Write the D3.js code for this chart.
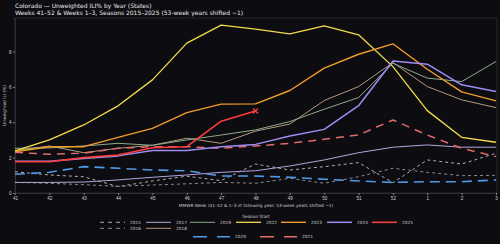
<!DOCTYPE html>
<html>
<head>
<meta charset="utf-8">
<script src="https://cdn.jsdelivr.net/npm/d3@7"></script>
<style>
  body { margin: 0; background: #0c0c11; }
  svg { display: block; font-family: "DejaVu Sans", sans-serif; }
</style>
</head>
<body>
<div id="chart"></div>
<script>
// weeks on the x axis (41..52 then 1..3 of next year)
const weekLabels = ["41","42","43","44","45","46","47","48","49","50","51","52","1","2","3"];

// season values, unweighted ILI %
const s2015 = [1.2, 1.02, 0.92, 0.36, 0.68, 0.95, 0.7, 1.64, 1.3, 1.49, 1.72, 0.58, 1.87, 1.64, 2.25];
const s2016 = [0.6, 0.55, 0.47, 0.38, 0.45, 0.52, 0.6, 0.55, 0.83, 0.55, 0.92, 1.4, 1.17, 0.98, 1.0];
const s2017 = [0.6, 0.6, 0.62, 0.74, 0.89, 1.02, 1.17, 1.26, 1.53, 1.87, 2.28, 2.59, 2.72, 2.59, 2.59];
const s2018 = [2.4, 2.66, 2.28, 2.53, 2.7, 3.1, 2.81, 3.5, 3.9, 5.23, 6.02, 7.38, 6.02, 5.27, 4.83];
const s2019 = [2.53, 2.55, 2.66, 2.81, 2.7, 3.0, 3.28, 3.57, 4.04, 4.74, 5.4, 7.34, 6.5, 6.3, 7.44];
const s2020 = [1.06, 1.17, 1.49, 1.4, 1.3, 1.26, 0.96, 0.96, 0.89, 0.78, 0.68, 0.6, 0.64, 0.64, 0.74];
const s2021 = [2.3, 2.19, 2.25, 2.53, 2.62, 2.62, 2.53, 2.66, 2.81, 3.04, 3.28, 4.13, 3.28, 2.53, 2.06];
const s2022 = [2.38, 3.0, 3.85, 4.93, 6.4, 8.48, 9.5, 9.27, 9.0, 9.46, 8.95, 7.15, 4.66, 3.15, 2.87];
const s2023 = [2.33, 2.62, 2.62, 3.15, 3.66, 4.55, 5.03, 5.04, 5.8, 7.06, 7.85, 8.44, 7.0, 5.72, 5.21];
const s2024 = [1.8, 1.8, 1.95, 2.1, 2.4, 2.4, 2.62, 2.75, 3.23, 3.6, 4.94, 7.47, 7.29, 6.12, 5.74];
const s2025 = [1.77, 1.77, 2.0, 2.15, 2.56, 2.62, 4.06, 4.64];

const yTicks = [0, 2, 4, 6, 8];

const series = [
  {name: "2015", values: s2015, color: "#b0b0b0", width: 1, dash: "3,3"},
  {name: "2016", values: s2016, color: "#8c8c8c", width: 1, dash: "3,3"},
  {name: "2017", values: s2017, color: "#b4a4dc", width: 1, dash: null},
  {name: "2018", values: s2018, color: "#b39a7e", width: 1, dash: null},
  {name: "2019", values: s2019, color: "#8fab8c", width: 1, dash: null},
  {name: "2020", values: s2020, color: "#4f9ae6", width: 1.6, dash: "10,6"},
  {name: "2021", values: s2021, color: "#e26a6a", width: 1.5, dash: "8,6"},
  {name: "2022", values: s2022, color: "#f3dc4a", width: 1.3, dash: null},
  {name: "2023", values: s2023, color: "#f19d2a", width: 1.4, dash: null},
  {name: "2024", values: s2024, color: "#9d8df2", width: 1.5, dash: null},
  {name: "2025", values: s2025, color: "#ff3d3d", width: 1.6, dash: null}
];

const w = 500, h = 244;
const mLeft = 15, mRight = 497, mTop = 18, mBottom = 193;

const svg = d3.select("#chart").append("svg")
  .attr("width", w).attr("height", h);

svg.append("rect").attr("width", w).attr("height", h).attr("fill", "#0c0c11");

const x = d3.scaleLinear().domain([0, weekLabels.length - 1]).range([mLeft, mRight - 1]);
const y = d3.scaleLinear().domain([0, 9.9]).range([mBottom, mTop]);

// frame
svg.append("rect")
  .attr("x", mLeft).attr("y", mTop)
  .attr("width", mRight - mLeft).attr("height", mBottom - mTop)
  .attr("fill", "none").attr("stroke", "#2e2e36").attr("stroke-width", 0.8);

// axes
const xAxis = d3.axisBottom(x).tickValues(d3.range(weekLabels.length))
  .tickFormat(i => weekLabels[i]).tickSize(2).tickPadding(1.5);
const gx = svg.append("g").attr("transform", `translate(0,${mBottom})`).call(xAxis);

const yAxis = d3.axisLeft(y).tickValues(yTicks).tickSize(2).tickPadding(1.5);
const gy = svg.append("g").attr("transform", `translate(${mLeft},0)`).call(yAxis);

[gx, gy].forEach(g => {
  g.select(".domain").attr("stroke", "#2e2e36");
  g.selectAll(".tick line").attr("stroke", "#888");
  g.selectAll(".tick text").attr("fill", "#cfcfcf").style("font-size", "4.6px");
});

// lines
const line = d3.line().x((d, i) => x(i)).y(d => y(d));
svg.append("g").selectAll("path")
  .data(series)
  .join("path")
  .attr("d", d => line(d.values))
  .attr("fill", "none")
  .attr("stroke", d => d.color)
  .attr("stroke-width", d => d.width)
  .attr("stroke-dasharray", d => d.dash)
  .attr("stroke-linejoin", "round");

// end marker for the current season
const last = s2025.length - 1;
svg.append("path")
  .attr("d", d3.symbol(d3.symbolX, 18)())
  .attr("transform", `translate(${x(last)},${y(s2025[last])})`)
  .attr("stroke", "#ff3d3d").attr("stroke-width", 1.3).attr("fill", "none");

// titles
svg.append("text").attr("x", 15).attr("y", 8.2)
  .attr("fill", "#e8e8e8").style("font-size", "6px")
  .text("Colorado — Unweighted ILI% by Year (States)");
svg.append("text").attr("x", 15).attr("y", 15)
  .attr("fill", "#e8e8e8").style("font-size", "6px")
  .text("Weeks 41–52 & Weeks 1–3, Seasons 2015–2025 (53-week years shifted −1)");

svg.append("text")
  .attr("transform", `translate(6,${(mTop + mBottom) / 2}) rotate(-90)`)
  .attr("text-anchor", "middle")
  .attr("fill", "#cfcfcf").style("font-size", "4.3px")
  .text("Unweighted ILI (%)");

svg.append("text").attr("x", 256).attr("y", 207)
  .attr("text-anchor", "middle")
  .attr("fill", "#cfcfcf").style("font-size", "4.3px")
  .text("MMWR Week (41–52 & 1–3 of following year; 53-week years shifted −1)");

// legend
const legend = svg.append("g").style("font-size", "4.3px");
legend.append("text").attr("x", 256).attr("y", 217.5)
  .attr("text-anchor", "middle").attr("fill", "#cfcfcf").text("Season Start");

const legendPos = {
  "2015": [100, 222.3], "2016": [100, 228.3],
  "2017": [146, 222.3], "2018": [146, 228.3],
  "2019": [190, 222.3], "2022": [236, 222.3],
  "2023": [281, 222.3], "2024": [327, 222.3],
  "2025": [372, 222.3],
  "2020": [193, 236.7], "2021": [260, 236.7]
};

series.forEach(s => {
  const [lx, ly] = legendPos[s.name];
  const len = (s.name === "2020" || s.name === "2021") ? 37 : 25;
  legend.append("line")
    .attr("x1", lx).attr("x2", lx + len)
    .attr("y1", ly).attr("y2", ly)
    .attr("stroke", s.color)
    .attr("stroke-width", s.width)
    .attr("stroke-dasharray", s.name === "2015" || s.name === "2016" ? "4,4" : s.name === "2020" || s.name === "2021" ? "14,10" : null);
  legend.append("text")
    .attr("x", lx + len + 5).attr("y", ly + 1.5)
    .attr("fill", "#cfcfcf").text(s.name);
});
</script>
</body>
</html>
